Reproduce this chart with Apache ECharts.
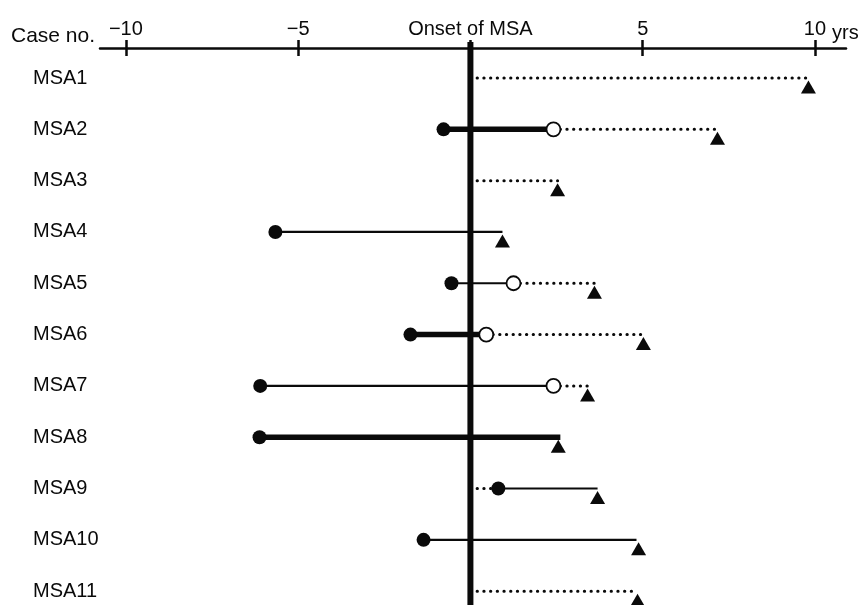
<!DOCTYPE html>
<html>
<head>
<meta charset="utf-8">
<script src="https://cdn.jsdelivr.net/npm/echarts@6/dist/echarts.min.js"></script>
<style>
html,body{margin:0;padding:0;background:#fff;}
#chart{width:864px;height:605px;}
</style>
</head>
<body>
<div id="chart"></div>
<script>
// ---- data (years relative to onset of MSA) ----
const cases = ['MSA1','MSA2','MSA3','MSA4','MSA5','MSA6','MSA7','MSA8','MSA9','MSA10','MSA11'];
const xTicks = [-10, -5, 0, 5, 10];
const xTickLabels = ['\u221210', '\u22125', 'Onset of MSA', '5', '10'];
// filled circle per case (null = none)
const filledDot = [null, -0.78, null, -5.66, -0.55, -1.74, -6.10, -6.12, 0.81, -1.36, null];
// open circle per case
const openDot = [null, 2.41, null, null, 1.25, 0.46, 2.41, null, null, null, null];
// triangle (end point) per case
const triangleEnd = [9.81, 7.17, 2.53, 0.93, 3.60, 5.02, 3.40, 2.55, 3.69, 4.88, 4.85];
// segments: [caseIndex, from, to]
const thinSolid = [[3, -5.66, 0.93], [4, -0.55, 1.25], [6, -6.10, 2.41], [8, 0.81, 3.69], [9, -1.36, 4.82]];
const thickSolid = [[1, -0.78, 2.41], [5, -1.74, 0.46], [7, -6.12, 2.61]];
const dottedSeg = [[0, 0, 9.81], [1, 2.41, 7.17], [2, 0, 2.53], [4, 1.25, 3.60], [5, 0.46, 5.02], [6, 2.41, 3.40], [8, 0, 0.81], [10, 0, 4.85]];

const INK = '#0a0a0a';
const FONT = 'Liberation Sans, Arial, Helvetica, sans-serif';

function segSeries(data, style) {
  return {
    type: 'custom',
    xAxisIndex: 0,
    yAxisIndex: 0,
    data: data,
    encode: { x: [1, 2], y: 0 },
    z: 3,
    renderItem: function (params, api) {
      const y = api.value(0);
      const p0 = api.coord([api.value(1), y]);
      const p1 = api.coord([api.value(2), y]);
      return {
        type: 'line',
        shape: { x1: p0[0], y1: p0[1], x2: p1[0], y2: p1[1] },
        style: Object.assign({ stroke: INK, fill: null }, style)
      };
    }
  };
}

function pts(arr) {
  const out = [];
  arr.forEach((v, i) => { if (v !== null) out.push([v, i]); });
  return out;
}

const chart = echarts.init(document.getElementById('chart'), null, { renderer: 'canvas' });
chart.setOption({
  animation: false,
  backgroundColor: '#fff',
  grid: { left: 100, right: 18, top: 48, bottom: 0 },
  xAxis: [{
    type: 'value', position: 'top', min: -10.75, max: 10.9,
    axisLine: { show: true, onZero: false, lineStyle: { color: INK, width: 2.5 } },
    axisTick: { show: true, customValues: xTicks, length: 8, lineStyle: { color: INK, width: 2.5 } },
    axisLabel: {
      customValues: xTicks, margin: 9, color: INK, fontFamily: FONT, fontSize: 20,
      formatter: function (v) { return xTickLabels[xTicks.indexOf(v)]; }
    },
    splitLine: { show: false }
  }, {
    type: 'value', position: 'top', min: -10.75, max: 10.9,
    axisLine: { show: false, onZero: false },
    axisTick: { show: true, inside: true, customValues: xTicks, length: 8, lineStyle: { color: INK, width: 2.5 } },
    axisLabel: { show: false },
    splitLine: { show: false }
  }],
  yAxis: {
    type: 'value', inverse: true, min: -0.585, max: 10.27,
    axisLine: { show: false }, axisTick: { show: false }, splitLine: { show: false },
    axisLabel: {
      customValues: cases.map((c, i) => i), align: 'left', margin: 67,
      color: INK, fontFamily: FONT, fontSize: 20,
      formatter: function (v) { return cases[v]; }
    }
  },
  graphic: [
    { type: 'text', left: 11, top: 26, style: { text: 'Case no.', font: '21px ' + FONT, fill: INK } },
    { type: 'text', left: 832, top: 23, style: { text: 'yrs', font: '20px ' + FONT, fill: INK } }
  ],
  series: [
    {
      type: 'line', xAxisIndex: 0, yAxisIndex: 0, clip: false, symbol: 'none', z: 4,
      data: [[0, -0.7], [0, 10.27]],
      lineStyle: { color: INK, width: 6 }
    },
    segSeries(thinSolid, { lineWidth: 2.2 }),
    segSeries(thickSolid, { lineWidth: 5.5 }),
    segSeries(dottedSeg, { lineWidth: 3, lineDash: [0.3, 6.4], lineCap: 'round' }),
    {
      type: 'scatter', xAxisIndex: 0, yAxisIndex: 0, z: 6,
      data: pts(triangleEnd), symbol: 'triangle', symbolSize: [15, 13], symbolOffset: [0, 9],
      itemStyle: { color: INK, opacity: 1 }
    },
    {
      type: 'scatter', xAxisIndex: 0, yAxisIndex: 0, z: 7,
      data: pts(filledDot), symbol: 'circle', symbolSize: 14,
      itemStyle: { color: INK, opacity: 1 }
    },
    {
      type: 'scatter', xAxisIndex: 0, yAxisIndex: 0, z: 7,
      data: pts(openDot), symbol: 'circle', symbolSize: 14,
      itemStyle: { color: '#fff', borderColor: INK, borderWidth: 1.8, opacity: 1 }
    }
  ]
});
</script>
</body>
</html>
